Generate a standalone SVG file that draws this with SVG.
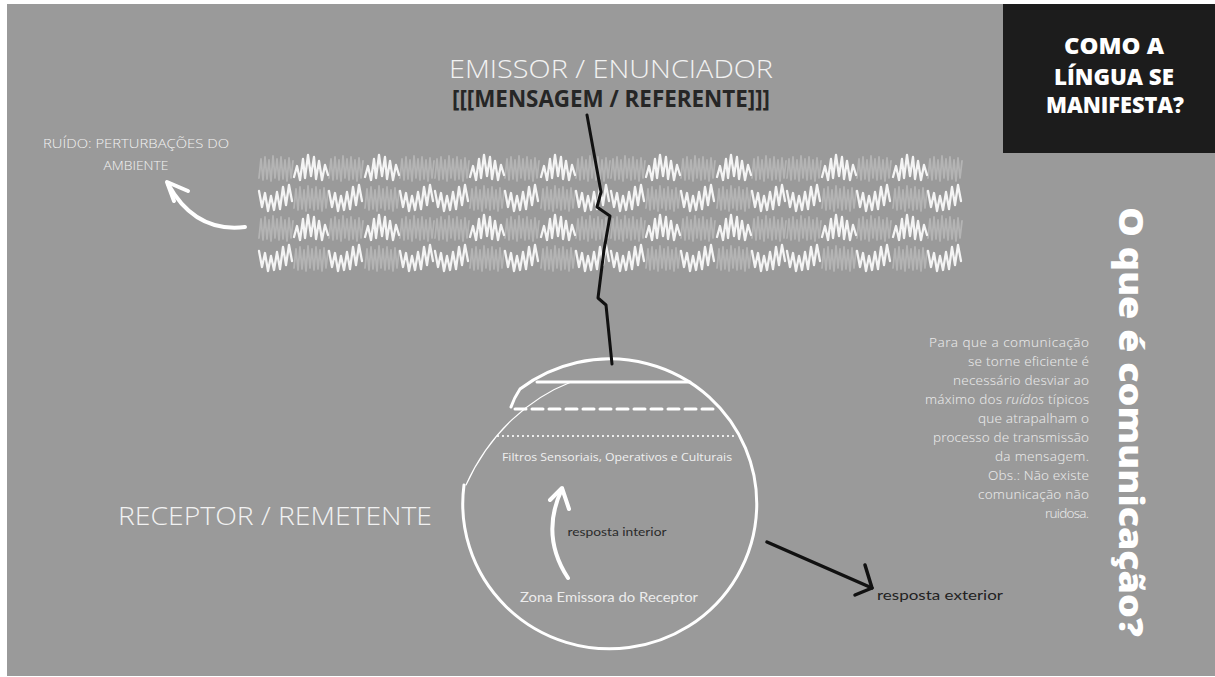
<svg xmlns="http://www.w3.org/2000/svg" width="1215" height="677" viewBox="0 0 1215 677">
<style>
.thin{font-family:"Open Sans","Liberation Sans",sans-serif;font-weight:300;fill:#f2f2f2}
.heavy{font-family:"Open Sans","Liberation Sans",sans-serif;font-weight:800;fill:#ffffff}
.para{font-family:"Noto Sans","Liberation Sans",sans-serif;font-size:13.5px;font-weight:300;fill:#e8e8e8;text-anchor:end}
.wl{fill:none;stroke:#ffffff;stroke-linecap:round;stroke-linejoin:round}
.bl{fill:none;stroke:#111111;stroke-linecap:round;stroke-linejoin:round}
.sq{fill:none;stroke-linejoin:round;stroke-linecap:round}
</style>
<defs>
<path id="lt" class="sq" stroke="#b4b4b4" stroke-width="1.8" d="M1,25 L3,6 L5,27 L7,4 L9,26 L11,7 L13,28 L15,3 L17,25 L19,6 L21,27 L23,4 L25,26 L27,7 L29,28 L31,5 L33,25 L35,8"/>
<path id="wa" class="sq" stroke="#f4f4f4" stroke-width="2.3" d="M1,24 L4,13 L7,27 L10,6 L12,25 L15,2 L18,23 L21,4 L23,26 L26,8 L29,27 L32,12 L35,22"/>
<path id="wb" class="sq" stroke="#f4f4f4" stroke-width="2.3" d="M1,8 L4,24 L7,10 L10,28 L13,13 L16,27 L19,9 L22,26 L25,4 L28,22 L31,2 L34,18"/>
</defs>
<rect x="0" y="0" width="1215" height="677" fill="#ffffff"/>
<rect x="7" y="4" width="1208" height="672" fill="#9a9a9a"/>

<g id="title-box">
<rect x="1003" y="4" width="212" height="149" fill="#1c1c1c"/>
<text class="heavy" x="1114" y="54" font-size="22" text-anchor="middle" textLength="100" lengthAdjust="spacingAndGlyphs">COMO A</text>
<text class="heavy" x="1114" y="85" font-size="22" text-anchor="middle" textLength="120" lengthAdjust="spacingAndGlyphs">LÍNGUA SE</text>
<text class="heavy" x="1115" y="113" font-size="22" text-anchor="middle" textLength="138" lengthAdjust="spacingAndGlyphs">MANIFESTA?</text>
</g>

<g id="vertical-title">
<text class="heavy" transform="translate(1119,422) rotate(90)" font-size="33" text-anchor="middle" textLength="430" lengthAdjust="spacingAndGlyphs">O que é comunicação?</text>
</g>

<g id="emissor">
<text class="thin" x="611" y="78" font-size="25" text-anchor="middle" textLength="324" lengthAdjust="spacingAndGlyphs">EMISSOR / ENUNCIADOR</text>
<text x="611" y="107" font-size="23" font-family="Open Sans, Liberation Sans, sans-serif" font-weight="700" fill="#262626" text-anchor="middle" textLength="318" lengthAdjust="spacingAndGlyphs">[[[MENSAGEM / REFERENTE]]]</text>
</g>

<g id="ruido-label">
<text class="thin" x="136" y="148" font-size="12" text-anchor="middle" textLength="186" lengthAdjust="spacingAndGlyphs">RUÍDO: PERTURBAÇÕES DO</text>
<text class="thin" x="136" y="170" font-size="12" text-anchor="middle" textLength="65" lengthAdjust="spacingAndGlyphs">AMBIENTE</text>
</g>

<g id="noise">
<use href="#lt" x="258" y="153"/><use href="#lt" x="328" y="153"/><use href="#lt" x="399" y="153"/><use href="#lt" x="434" y="153"/><use href="#lt" x="504" y="153"/><use href="#lt" x="575" y="153"/><use href="#lt" x="610" y="153"/><use href="#lt" x="680" y="153"/><use href="#lt" x="751" y="153"/><use href="#lt" x="786" y="153"/><use href="#lt" x="856" y="153"/><use href="#lt" x="927" y="153"/>
<use href="#lt" x="258" y="213"/><use href="#lt" x="328" y="213"/><use href="#lt" x="399" y="213"/><use href="#lt" x="434" y="213"/><use href="#lt" x="504" y="213"/><use href="#lt" x="575" y="213"/><use href="#lt" x="610" y="213"/><use href="#lt" x="680" y="213"/><use href="#lt" x="751" y="213"/><use href="#lt" x="786" y="213"/><use href="#lt" x="856" y="213"/><use href="#lt" x="927" y="213"/>
<use href="#lt" x="293" y="183"/><use href="#lt" x="364" y="183"/><use href="#lt" x="469" y="183"/><use href="#lt" x="540" y="183"/><use href="#lt" x="645" y="183"/><use href="#lt" x="716" y="183"/><use href="#lt" x="821" y="183"/><use href="#lt" x="892" y="183"/>
<use href="#lt" x="293" y="243"/><use href="#lt" x="364" y="243"/><use href="#lt" x="469" y="243"/><use href="#lt" x="540" y="243"/><use href="#lt" x="645" y="243"/><use href="#lt" x="716" y="243"/><use href="#lt" x="821" y="243"/><use href="#lt" x="892" y="243"/>
<use href="#wa" x="293" y="153"/><use href="#wa" x="364" y="153"/><use href="#wa" x="469" y="153"/><use href="#wa" x="540" y="153"/><use href="#wa" x="645" y="153"/><use href="#wa" x="716" y="153"/><use href="#wa" x="821" y="153"/><use href="#wa" x="892" y="153"/>
<use href="#wa" x="293" y="213"/><use href="#wa" x="364" y="213"/><use href="#wa" x="469" y="213"/><use href="#wa" x="540" y="213"/><use href="#wa" x="645" y="213"/><use href="#wa" x="716" y="213"/><use href="#wa" x="821" y="213"/><use href="#wa" x="892" y="213"/>
<use href="#wb" x="258" y="183"/><use href="#wb" x="328" y="183"/><use href="#wb" x="399" y="183"/><use href="#wb" x="434" y="183"/><use href="#wb" x="504" y="183"/><use href="#wb" x="575" y="183"/><use href="#wb" x="610" y="183"/><use href="#wb" x="680" y="183"/><use href="#wb" x="751" y="183"/><use href="#wb" x="786" y="183"/><use href="#wb" x="856" y="183"/><use href="#wb" x="927" y="183"/>
<use href="#wb" x="258" y="243"/><use href="#wb" x="328" y="243"/><use href="#wb" x="399" y="243"/><use href="#wb" x="434" y="243"/><use href="#wb" x="504" y="243"/><use href="#wb" x="575" y="243"/><use href="#wb" x="610" y="243"/><use href="#wb" x="680" y="243"/><use href="#wb" x="751" y="243"/><use href="#wb" x="786" y="243"/><use href="#wb" x="856" y="243"/><use href="#wb" x="927" y="243"/>
</g>

<g id="receptor">
<path class="wl" stroke-width="3" d="M511,407 Q514,398 520,389 A147,145 0 1 1 464,485"/>
<path class="wl" stroke-width="1.2" d="M571,382 C530,398 490,432 466,485"/>
<path class="wl" stroke-width="3" d="M537,382 L690,382"/>
<path class="wl" stroke-width="3" stroke-linecap="butt" stroke-dasharray="11 6" d="M515,409 L717,409"/>
<path class="wl" stroke-width="2.2" stroke-dasharray="0 5" d="M498,436 L737,436"/>
<text x="617" y="461" font-size="11" font-family="Open Sans, Liberation Sans, sans-serif" fill="#f0f0f0" text-anchor="middle" textLength="230" lengthAdjust="spacingAndGlyphs">Filtros Sensoriais, Operativos e Culturais</text>
<text x="617" y="536" font-size="12" font-family="Lato, Liberation Sans, sans-serif" fill="#2b2b2b" text-anchor="middle" textLength="99" lengthAdjust="spacingAndGlyphs">resposta interior</text>
<text x="609" y="602" font-size="13.5" font-family="Lato, Liberation Sans, sans-serif" fill="#ececec" text-anchor="middle" textLength="178" lengthAdjust="spacingAndGlyphs">Zona Emissora do Receptor</text>
<text class="thin" x="275" y="525" font-size="25" text-anchor="middle" textLength="314" lengthAdjust="spacingAndGlyphs">RECEPTOR / REMETENTE</text>
</g>

<g id="resposta-exterior">
<text x="877" y="600" font-size="13.5" font-family="Lato, Liberation Sans, sans-serif" fill="#222222" textLength="126" lengthAdjust="spacingAndGlyphs">resposta exterior</text>
</g>

<g id="paragraph">
<text class="para" x="1089" y="347" textLength="160">Para que a comunicação</text>
<text class="para" x="1089" y="366" textLength="121">se torne eficiente é</text>
<text class="para" x="1089" y="385" textLength="136">necessário desviar ao</text>
<text class="para" x="1089" y="404" textLength="164">máximo dos <tspan font-style="italic">ruídos</tspan> típicos</text>
<text class="para" x="1089" y="423" textLength="111">que atrapalham o</text>
<text class="para" x="1089" y="442" textLength="156">processo de transmissão</text>
<text class="para" x="1089" y="461" textLength="94">da mensagem.</text>
<text class="para" x="1089" y="480" textLength="101">Obs.: Não existe</text>
<text class="para" x="1089" y="499" textLength="111">comunicação não</text>
<text class="para" x="1089" y="518" textLength="44">ruidosa.</text>
</g>

<g id="connectors">
<path class="bl" stroke-width="3" d="M587,115 L601,192 L597,207 L610,216 L604,250 L598,298 L606,305 L612,364"/>
<path class="wl" stroke-width="4" d="M245,227 Q195,233 168,184"/>
<path class="wl" stroke-width="4" d="M188,191 L167,182 L174,201"/>
<path class="wl" stroke-width="4" d="M568,578 Q540,535 562,489"/>
<path class="wl" stroke-width="4" d="M550,500 L562,488 L569,509"/>
<path class="bl" stroke-width="3.5" d="M767,542 L872,588"/>
<path class="bl" stroke-width="3.5" d="M865,565 L872,588 L855,595"/>
</g>
</svg>
